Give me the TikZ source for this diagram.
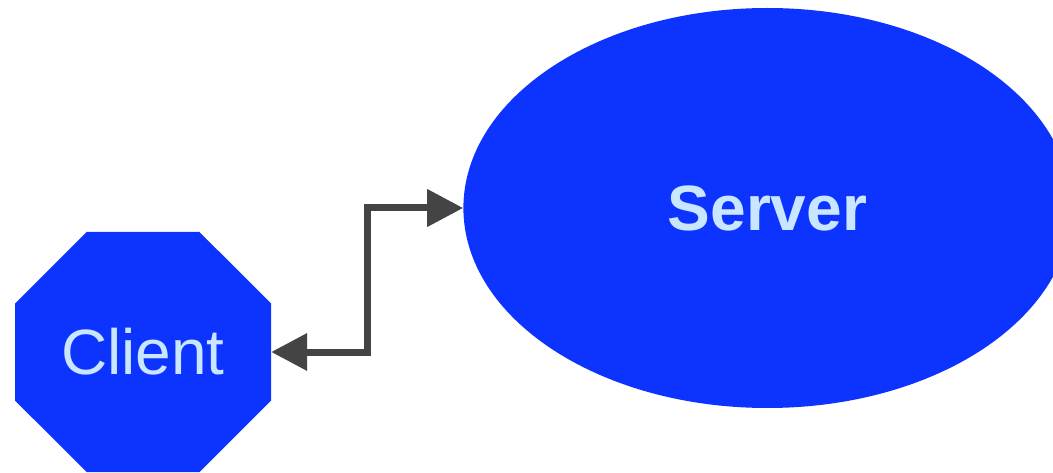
\documentclass[tikz,border=0pt]{standalone}
\usepackage{fontspec}
\setmainfont{Liberation Sans}
\usepackage{tikz}
\usetikzlibrary{positioning,calc,arrows.meta,shapes.geometric,shapes.misc}
\definecolor{nodeblue}{HTML}{0D33FF}
\definecolor{labelblue}{HTML}{C8E6FF}
\definecolor{linkgray}{HTML}{444444}
\tikzstyle{oct}=[chamfered rectangle, chamfered rectangle sep=48pt, fill=nodeblue, inner sep=0pt, minimum width=256pt, minimum height=240pt, text=labelblue, font=\fontsize{64}{64}\selectfont]
\tikzstyle{ell}=[ellipse, fill=nodeblue, inner sep=0pt, minimum width=608pt, minimum height=400pt, text=labelblue, font=\fontsize{64}{64}\selectfont\bfseries]
\tikzstyle{link}=[line width=7pt, draw=linkgray, line join=miter, {Triangle[length=36pt,width=36pt]}-{Triangle[length=36pt,width=36pt]}]

\begin{document}
\begin{tikzpicture}
        \useasboundingbox (0,0) rectangle (1053pt,472pt);
        \node (client) [oct] at (143pt,120pt) {Client};
        \node (server) [ell, right= 192pt of client, yshift=144pt] {Server};
        \draw[link] (client.east) -- ++(96pt,0) |- (server.west);
\end{tikzpicture}
\end{document}
